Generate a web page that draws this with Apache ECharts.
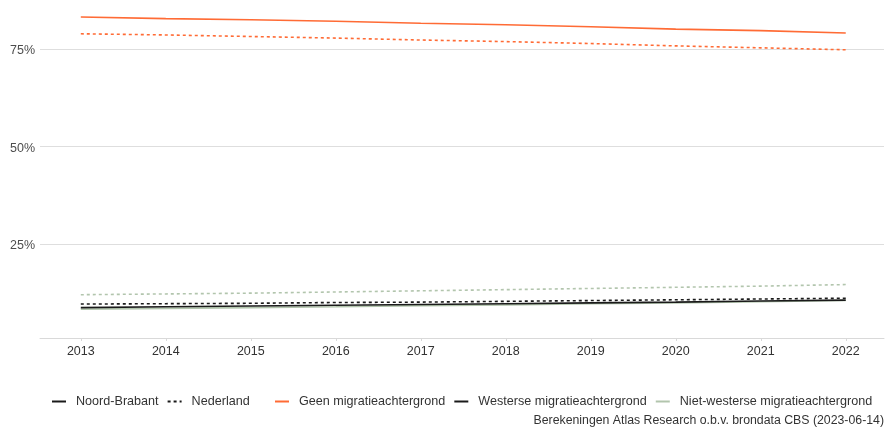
<!DOCTYPE html>
<html lang="nl">
<head>
  <meta charset="UTF-8">
  <title>Migratieachtergrond</title>
  <script src="https://cdn.jsdelivr.net/npm/echarts@6.0.0/dist/echarts.min.js"></script>
  <style>
    * { margin: 0; padding: 0; box-sizing: border-box; }
    body { background: #fff; }
    #chart { width: 886px; height: 427px; }
  </style>
</head>
<body>
  <div id="chart"></div>
  <script>
    // data (percent)
    var years = [2013, 2014, 2015, 2016, 2017, 2018, 2019, 2020, 2021, 2022];
    var yTicks = [25, 50, 75];

    var geenNB = [83.2, 82.8, 82.5, 82.1, 81.6, 81.2, 80.7, 80.1, 79.7, 79.1];
    var geenNL = [78.9, 78.6, 78.2, 77.8, 77.3, 76.9, 76.4, 75.8, 75.3, 74.8];
    var westNB = [8.7, 8.9, 9.1, 9.3, 9.5, 9.7, 9.9, 10.1, 10.4, 10.6];
    var westNL = [9.6, 9.7, 9.8, 10.0, 10.1, 10.3, 10.5, 10.7, 10.9, 11.1];
    var nietWestNB = [8.3, 8.5, 8.7, 8.9, 9.2, 9.4, 9.7, 9.9, 10.2, 10.5];
    var nietWestNL = [12.0, 12.2, 12.4, 12.7, 13.0, 13.3, 13.6, 13.9, 14.2, 14.6];

    var caption = 'Berekeningen Atlas Research o.b.v. brondata CBS (2023-06-14)';

    var ORANGE = '#ff6b35';
    var DARK = '#1a1a1a';
    var PALE = '#b2c5ad';
    var FONT = '"Liberation Sans", Arial, sans-serif';

    function pairs(vals) {
      return years.map(function (y, i) { return [y, vals[i]]; });
    }

    function line(name, vals, color, dashed) {
      return {
        name: name,
        type: 'line',
        data: pairs(vals),
        symbol: 'none',
        silent: true,
        lineStyle: { color: color, width: 1.6, type: dashed ? [3, 3] : 'solid' },
        itemStyle: { color: color }
      };
    }

    var solidIcon = 'path://M0,0H14V2H0Z';
    var dashIcon = 'path://M0,0H3V2H0Z M6,0H9V2H6Z M12,0H14V2H12Z';
    var legendText = { fontSize: 12.6, color: '#333', fontFamily: FONT, padding: [0, 0, 0, 5] };

    var chartDom = document.getElementById('chart');
    var myChart = echarts.init(chartDom);

    var option = {
      animation: false,
      textStyle: { fontFamily: FONT },
      grid: { left: 40, right: 2, top: 2, bottom: 89, containLabel: false },
      xAxis: {
        type: 'value',
        min: 2012.52,
        max: 2022.45,
        axisLine: { show: true, lineStyle: { color: '#d9d9d9', width: 1 } },
        axisTick: { show: true, customValues: years, length: 3, lineStyle: { color: '#d9d9d9' } },
        axisLabel: {
          customValues: years, margin: 7, color: '#333', fontSize: 12.5, fontFamily: FONT,
          formatter: function (v) { return String(v); }
        },
        splitLine: { show: false }
      },
      yAxis: {
        type: 'value',
        min: 0.9,
        max: 87.05,
        axisLine: { show: false },
        axisTick: { show: false, customValues: yTicks },
        axisLabel: {
          customValues: yTicks, margin: 5,
          formatter: function (v) { return '{p|' + v + '%}'; },
          rich: {
            p: { color: '#4d4d4d', fontSize: 12.5, fontFamily: FONT, padding: [4, 0, 0, 0] }
          }
        },
        splitLine: { show: true, lineStyle: { color: '#dedede', width: 1 } }
      },
      legend: [
        {
          left: 47, top: 390,
          itemWidth: 14, itemHeight: 2, itemGap: 9,
          textStyle: legendText,
          selectedMode: false,
          data: [
            { name: 'Noord-Brabant', icon: solidIcon, itemStyle: { color: DARK } },
            { name: 'Nederland', icon: dashIcon, itemStyle: { color: DARK } }
          ]
        },
        {
          left: 270, top: 390,
          itemWidth: 14, itemHeight: 2, itemGap: 9,
          textStyle: legendText,
          selectedMode: false,
          data: [
            { name: 'Geen migratieachtergrond', icon: solidIcon, itemStyle: { color: ORANGE } },
            { name: 'Westerse migratieachtergrond', icon: solidIcon, itemStyle: { color: DARK } },
            { name: 'Niet-westerse migratieachtergrond', icon: solidIcon, itemStyle: { color: PALE } }
          ]
        }
      ],
      graphic: [{
        type: 'text',
        right: 2,
        top: 415,
        style: { text: caption, fill: '#333', font: '12.3px ' + FONT, textAlign: 'right' }
      }],
      series: [
        { name: 'Noord-Brabant', type: 'line', data: [], itemStyle: { color: DARK } },
        { name: 'Nederland', type: 'line', data: [], itemStyle: { color: DARK } },
        line('Niet-westerse migratieachtergrond', nietWestNL, PALE, true),
        line('Niet-westerse migratieachtergrond', nietWestNB, PALE, false),
        line('Westerse migratieachtergrond', westNL, DARK, true),
        line('Westerse migratieachtergrond', westNB, DARK, false),
        line('Geen migratieachtergrond', geenNL, ORANGE, true),
        line('Geen migratieachtergrond', geenNB, ORANGE, false)
      ]
    };

    myChart.setOption(option);
  </script>
</body>
</html>
